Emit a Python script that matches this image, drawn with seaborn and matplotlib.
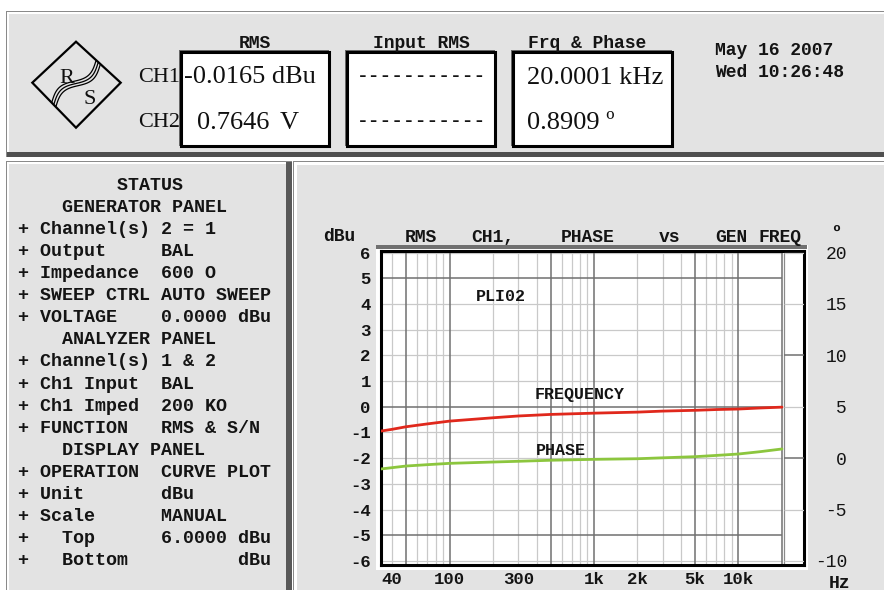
import logging
import numpy as np
import pandas as pd
import matplotlib
matplotlib.use("Agg")
import matplotlib.pyplot as plt
import seaborn as sns
from matplotlib.patches import Rectangle, Polygon
from matplotlib.lines import Line2D
from matplotlib.ticker import NullLocator

logging.getLogger("matplotlib.font_manager").setLevel(logging.ERROR)

# ---------------- data ----------------
freq_hz = [33.3, 40, 50, 70, 100, 200, 300, 500, 1000, 2000, 3000, 5000, 7000, 10000, 14000, 20000]
rms_ch1_dbu = [-0.95, -0.88, -0.78, -0.67, -0.56, -0.43, -0.36, -0.30, -0.25, -0.21, -0.17, -0.14, -0.11, -0.09, -0.05, -0.0165]
phase_deg = [-1.06, -0.93, -0.77, -0.64, -0.51, -0.38, -0.31, -0.21, -0.12, -0.06, 0.03, 0.14, 0.26, 0.40, 0.62, 0.89]

left_ticks = list(range(-6, 7))
right_ticks = [20, 15, 10, 5, 0, -5, -10]
x_ticks = [40, 100, 300, 1000, 2000, 5000, 10000]
x_tick_labels = ["40", "100", "300", "1k", "2k", "5k", "10k"]
grid_major_hz = [50, 100, 500, 1000, 5000, 10000, 20000]
grid_minor_hz = [40, 60, 70, 80, 90, 200, 300, 400, 600, 700, 800, 900,
                 2000, 3000, 4000, 6000, 7000, 8000, 9000]

status_lines = [
    "         STATUS",
    "    GENERATOR PANEL",
    "+ Channel(s) 2 = 1",
    "+ Output     BAL",
    "+ Impedance  600 O",
    "+ SWEEP CTRL AUTO SWEEP",
    "+ VOLTAGE    0.0000 dBu",
    "    ANALYZER PANEL",
    "+ Channel(s) 1 & 2",
    "+ Ch1 Input  BAL",
    "+ Ch1 Imped  200 KO",
    "+ FUNCTION   RMS & S/N",
    "    DISPLAY PANEL",
    "+ OPERATION  CURVE PLOT",
    "+ Unit       dBu",
    "+ Scale      MANUAL",
    "+   Top      6.0000 dBu",
    "+   Bottom          dBu",
]

# ---------------- style ----------------
W, H = 884, 590
sns.set_style("white")
plt.rcParams["font.family"] = ["Liberation Mono", "DejaVu Sans Mono", "DejaVu Sans"]
plt.rcParams["axes.unicode_minus"] = False

MONO = ["Liberation Mono", "DejaVu Sans Mono", "DejaVu Sans"]
NARROW = ["Liberation Serif", "DejaVu Serif"]
BG = "#e3e3e3"
EDGE = "#8a8a8a"
SHADOW = "#505050"
LIGHT = "#c9c9c9"
DARK = "#707070"
RED = "#e0281c"
GREEN = "#8cc63e"

fig = plt.figure(figsize=(W / 100, H / 100), dpi=100)
fig.patch.set_facecolor("white")


def rect(x0, y0, x1, y1, fc, ec="none", lw=0, z=-10):
    r = Rectangle((x0 / W, 1 - y1 / H), (x1 - x0) / W, (y1 - y0) / H,
                  transform=fig.transFigure, facecolor=fc, edgecolor=ec,
                  linewidth=lw, zorder=z)
    fig.add_artist(r)


def text(x, yc, s, size, family=MONO, weight="bold", ha="left", cap=0.62,
         color="#141414", **kw):
    base = yc + cap * size * 100 / 72 / 2
    fig.text(x / W, 1 - base / H, s, fontsize=size, family=family,
             weight=weight, ha=ha, va="baseline", color=color, **kw)


def disp(x, yc, s, size, ha="left"):
    text(x, yc, s, size, family=NARROW, weight="normal", ha=ha, cap=0.662,
         color="#101010")


# ---------------- panels ----------------
# top panel
rect(6, 11, 900, 157, EDGE)
rect(7, 12, 900, 156, "white")
rect(9, 14, 900, 152, BG)
rect(7, 152, 900, 157, SHADOW)
# lower-left panel
rect(6, 161, 292, 600, EDGE)
rect(7, 162, 292, 600, "white")
rect(9, 164, 286, 600, BG)
rect(286, 162, 292, 600, "#585858")
# lower-right panel
rect(293, 161, 900, 600, EDGE)
rect(294, 162, 900, 600, "white")
rect(297, 165, 900, 600, BG)
# plot surround
rect(376, 245, 808, 570, "white", z=-5)
rect(376, 245, 807, 249, "#707070", z=-4)

# display boxes
for x0, x1 in [(181, 329), (347, 495), (513, 672)]:
    rect(x0 - 2, 50, x1, 146, "#6a6a6a", z=-7)
    rect(x0, 52, x1 + 2, 148, "white", z=-7)
    rect(x0, 52, x1, 146, "white", ec="black", lw=2.2, z=-6)

# logo
dia = [(32.3, 82.7), (76, 41.7), (120.7, 82.7), (76, 127.7)]
fig.add_artist(Polygon([(x / W, 1 - y / H) for x, y in dia], closed=True,
                       fill=False, edgecolor="black", linewidth=1.6,
                       transform=fig.transFigure, zorder=2))
A = np.array([54.0, 104.0])
B = np.array([98.0, 63.0])
d = B - A
n = np.array([d[1], -d[0]]) / np.hypot(*d)
t = np.linspace(0, 1, 60)
for k in (-3.0, 0.0, 3.0):
    pts = A[None, :] + t[:, None] * d[None, :] + n[None, :] * (5.5 * np.sin(2 * np.pi * t) + k)[:, None]
    fig.add_artist(Line2D(pts[:, 0] / W, 1 - pts[:, 1] / H, color="black",
                          linewidth=0.9, transform=fig.transFigure, zorder=2))
disp(67, 76, "R", 16, ha="center")
disp(89.5, 97, "S", 16, ha="center")

# header texts
disp(138, 75, "CH1", 16)
disp(138, 120, "CH2", 16)
text(255, 42, "RMS", 13, ha="center")
text(421, 42, "Input RMS", 13, ha="center")
text(587, 42, "Frq & Phase", 13, ha="center")
disp(184, 74, "-0.0165 dBu", 19)
disp(197, 120, "0.7646", 19)
disp(280, 120, "V", 19)
text(421, 75, "-----------", 14, ha="center")
text(421, 120, "-----------", 14, ha="center")
disp(527, 75, "20.0001 kHz", 19)
disp(527, 120, "0.8909 º", 19)
text(715, 49, "May 16 2007", 13)
text(715, 71, "Wed 10:26:48", 13)

# status panel
for i, line in enumerate(status_lines):
    text(18, 184 + i * 22.1, line, 13.2)

# ---------------- chart ----------------
XMIN, XMAX = 33.3, 28400
YMIN, YMAX = -6.16, 6.08
STRIP_HZ = 20650

ax = fig.add_axes([380.5 / W, 1 - 565 / H, (804 - 380.5) / W, (565 - 250.5) / H])
ax.set_facecolor("white")
ax2 = ax.twinx()

df = pd.DataFrame({"freq": freq_hz, "rms": rms_ch1_dbu, "phase": phase_deg})
sns.lineplot(data=df, x="freq", y="rms", ax=ax, color=RED, linewidth=2.0, zorder=5)
sns.lineplot(data=df, x="freq", y="phase", ax=ax2, color=GREEN, linewidth=2.0, zorder=5)

ax.set_xscale("log")
ax2.set_xscale("log")
ax.set_xlim(XMIN, XMAX)
ax.set_ylim(YMIN, YMAX)
ax2.set_ylim((YMIN + 2) * 2.5, (YMAX + 2) * 2.5)

for f in grid_minor_hz:
    ax.axvline(f, color=LIGHT, linewidth=0.9, zorder=1)
for f in grid_major_hz:
    ax.axvline(f, color=DARK, linewidth=1.1, zorder=1.5)
ax.axvline(STRIP_HZ, color="#8a8a8a", linewidth=0.9, zorder=1.5)
for v in left_ticks:
    major = (v % 5 == 0)
    ax.hlines(v, XMIN, 20000, color=DARK if major else LIGHT,
              linewidth=1.1 if major else 0.9, zorder=1.5 if major else 1)
for v in right_ticks:
    major = v in (10, 0)
    ax2.hlines(v, STRIP_HZ, XMAX, color=DARK if major else LIGHT,
               linewidth=1.1 if major else 0.9, zorder=1)

for s in ax.spines.values():
    s.set_linewidth(2.2)
    s.set_color("black")
for s in ax2.spines.values():
    s.set_visible(False)

ax.set_xticks(x_ticks, x_tick_labels)
ax.xaxis.set_minor_locator(NullLocator())
ax.set_yticks(left_ticks, [str(v) for v in left_ticks])
ax.tick_params(axis="x", length=0, pad=5, labelsize=12.5, labelcolor="#141414")
ax.tick_params(axis="y", length=0, pad=7, labelsize=12.5, labelcolor="#141414")
for lbl in ax.get_xticklabels() + ax.get_yticklabels():
    lbl.set_fontweight("bold")
    lbl.set_family(MONO)

ax2.set_yticks(right_ticks, [str(v) for v in right_ticks])
ax2.yaxis.set_minor_locator(NullLocator())
ax2.tick_params(axis="y", length=0, pad=31, labelsize=13, labelcolor="#141414")
for lbl in ax2.get_yticklabels():
    lbl.set_ha("right")
    lbl.set_family(MONO)
ax.set_xlabel("")
ax.set_ylabel("")
ax2.set_ylabel("")

# chart texts
text(323, 235, "dBu", 13)
for word, x in [("RMS", 405), ("CH1,", 471), ("PHASE", 561), ("vs", 659),
                ("GEN", 715), ("FREQ", 759)]:
    text(x, 236, word, 13)
text(836, 233, "º", 12, ha="center")
text(840, 582, "Hz", 13, ha="center")
text(476, 296, "PLI02", 12)
text(535, 394, "FREQUENCY", 12)
text(536, 450, "PHASE", 12)

fig.savefig("out.png", dpi=100, facecolor="white")
